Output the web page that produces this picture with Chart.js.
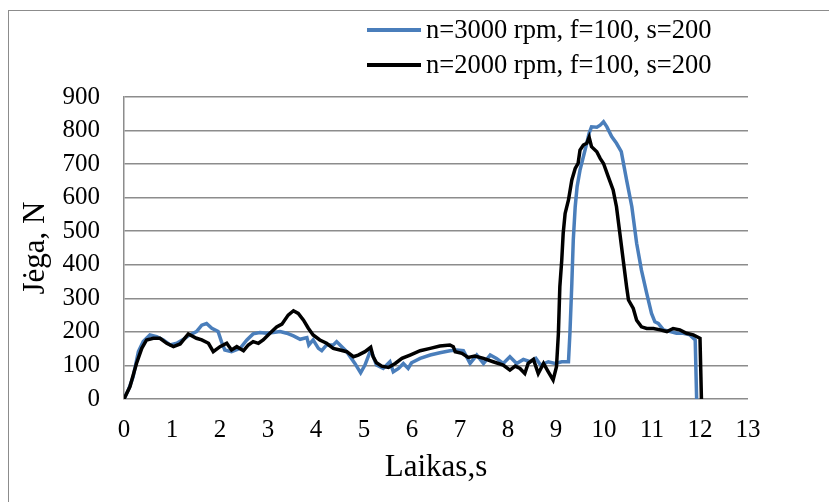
<!DOCTYPE html>
<html>
<head>
<meta charset="utf-8">
<script src="https://cdn.jsdelivr.net/npm/chart.js@4.4.1/dist/chart.umd.min.js"></script>
<style>
  html, body { margin: 0; padding: 0; background: #fff; overflow: hidden; }
  #wrap { position: relative; width: 829px; height: 502px; overflow: hidden; background: #fff; }
  #frame { position: absolute; left: 8px; top: 10px; width: 900px; height: 600px; border: 1px solid #8c8c8c; box-sizing: border-box; }
  canvas { position: absolute; left: 0; top: 0; }
  .leg { position: absolute; left: 367px; font-family: "Liberation Serif", "Times New Roman", serif; font-size: 26.5px; color: #000; white-space: nowrap; line-height: 30px; }
  .leg span.sw { display: inline-block; width: 54px; height: 3.5px; vertical-align: middle; margin-right: 5px; position: relative; top: -2px; }
</style>
</head>
<body>
<div id="wrap">
  <div id="frame"></div>
  <canvas id="c" width="829" height="502"></canvas>
  <div class="leg" style="top:14px;"><span class="sw" style="background:#4a7ebb"></span>n=3000 rpm, f=100, s=200</div>
  <div class="leg" style="top:49px;"><span class="sw" style="background:#000"></span>n=2000 rpm, f=100, s=200</div>
</div>
<script>
// Series labels
const seriesLabels = ["n=3000 rpm, f=100, s=200", "n=2000 rpm, f=100, s=200"];
// Axis settings
const xTicksMin = 0, xTicksMax = 13, xStep = 1;
const yTicksMin = 0, yTicksMax = 900, yStep = 100;

// n=3000 rpm series: time (s) and force (N)
const blueTime = [0,0.1,0.19,0.3,0.4,0.54,0.68,0.82,0.96,1.1,1.24,1.37,1.51,1.62,1.72,1.83,1.96,2.03,2.1,2.24,2.42,2.56,2.69,2.83,2.97,3.11,3.25,3.39,3.53,3.67,3.81,3.85,3.94,4.05,4.12,4.22,4.36,4.43,4.5,4.64,4.81,4.93,5.02,5.14,5.26,5.4,5.54,5.61,5.72,5.82,5.92,5.99,6.17,6.38,6.58,6.79,6.93,7.07,7.21,7.35,7.49,7.63,7.76,7.9,8.04,8.18,8.32,8.46,8.58,8.68,8.84,8.98,9.12,9.26,9.29,9.33,9.36,9.4,9.44,9.5,9.57,9.64,9.69,9.74,9.85,9.92,9.99,10.06,10.16,10.26,10.36,10.47,10.58,10.68,10.78,10.89,10.99,11.06,11.13,11.24,11.38,11.51,11.65,11.79,11.9,11.93];
const blueForce = [0,30,66,141,171,191,186,176,161,166,178,191,201,220,225,211,201,171,146,141,151,176,194,198,196,198,201,196,188,178,183,161,176,151,144,161,161,171,161,141,106,78,101,146,101,91,111,81,91,106,91,108,121,131,138,144,146,144,106,131,106,131,121,106,126,106,118,111,121,101,111,106,111,111,196,345,474,573,633,682,722,762,792,811,810,816,826,811,782,762,737,653,573,464,384,315,255,230,225,206,201,196,196,191,176,0];

// n=2000 rpm series: time (s) and force (N)
const blackTime = [0,0.125,0.26,0.37,0.47,0.61,0.75,0.89,1.03,1.17,1.34,1.51,1.62,1.76,1.86,2.0,2.14,2.24,2.35,2.49,2.59,2.69,2.8,2.9,3.04,3.18,3.29,3.42,3.53,3.63,3.74,3.84,3.94,4.08,4.22,4.36,4.5,4.64,4.78,4.88,5.02,5.14,5.19,5.26,5.37,5.51,5.65,5.79,5.96,6.17,6.38,6.58,6.79,6.86,6.9,7.04,7.17,7.31,7.49,7.69,7.9,8.04,8.15,8.25,8.35,8.42,8.53,8.63,8.74,8.84,8.94,9.01,9.05,9.08,9.12,9.15,9.19,9.26,9.33,9.4,9.46,9.5,9.57,9.64,9.69,9.74,9.85,9.92,9.99,10.09,10.19,10.26,10.33,10.4,10.47,10.51,10.61,10.68,10.78,10.89,11.03,11.17,11.31,11.44,11.58,11.72,11.86,12.0,12.03];
const blackForce = [0,37,106,151,176,181,181,166,156,164,194,181,176,166,141,156,166,146,156,144,161,171,166,176,196,215,223,250,263,255,235,211,191,176,166,151,146,141,126,131,141,154,126,108,98,94,106,121,131,144,151,158,161,156,141,136,124,128,121,111,101,86,98,91,76,106,118,76,106,81,57,96,196,335,414,494,553,593,653,687,702,742,757,762,780,752,737,717,702,662,623,573,494,414,335,295,270,235,215,210,210,206,201,210,206,196,191,181,0];

function pairs(xs, ys) { return xs.map((x, i) => ({ x: x, y: ys[i] })); }

const serif = "'Liberation Serif', 'Times New Roman', serif";

new Chart(document.getElementById('c'), {
  type: 'line',
  data: {
    datasets: [
      { label: seriesLabels[1], data: pairs(blackTime, blackForce), borderColor: '#000000', borderWidth: 3.5, pointRadius: 0, tension: 0, fill: false },
      { label: seriesLabels[0], data: pairs(blueTime, blueForce), borderColor: '#4a7ebb', borderWidth: 3.5, pointRadius: 0, tension: 0, fill: false }
    ]
  },
  options: {
    responsive: false,
    animation: false,
    events: [],
    layout: { padding: { left: 8, top: 97, right: 81, bottom: 0 } },
    plugins: { legend: { display: false }, tooltip: { enabled: false } },
    scales: {
      x: {
        type: 'linear', min: xTicksMin, max: xTicksMax,
        ticks: { stepSize: xStep, color: '#000', font: { family: serif, size: 25 }, padding: 16, maxRotation: 0, autoSkip: false },
        grid: { display: false, drawTicks: false },
        border: { display: false },
        title: { display: true, text: 'Laikas,s', color: '#000', font: { family: serif, size: 31 }, padding: { top: 0, bottom: 16 } },
        afterFit: (s) => { s.height = 103; }
      },
      y: {
        min: yTicksMin, max: yTicksMax,
        ticks: { stepSize: yStep, color: '#000', font: { family: serif, size: 25 }, padding: 24 },
        grid: { color: '#8c8c8c', lineWidth: 1.5, drawTicks: false },
        border: { display: true, color: '#8c8c8c', width: 1.5 },
        title: { display: true, text: 'Jėga, N', color: '#000', font: { family: serif, size: 31 }, padding: { top: 9, bottom: 0 } },
        afterFit: (s) => { s.width = 116; }
      }
    }
  }
});
</script>
</body>
</html>
